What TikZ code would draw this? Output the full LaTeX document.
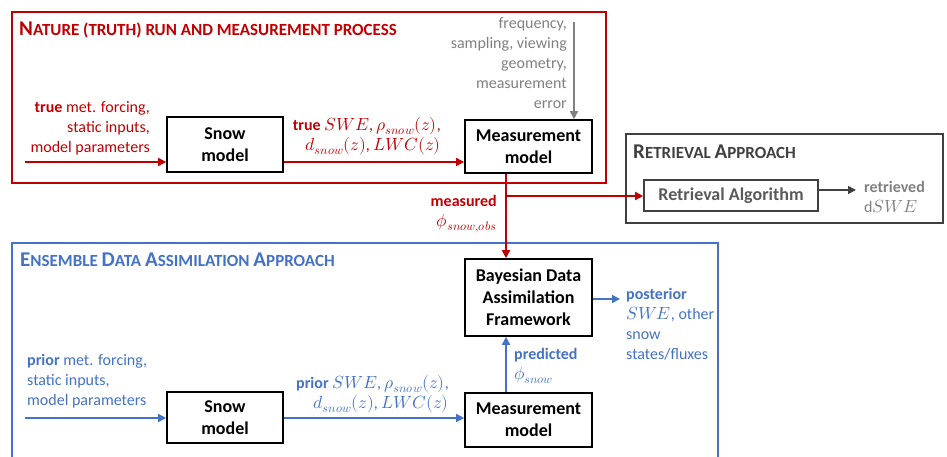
\documentclass[tikz,border=0pt]{standalone}
\usepackage{fontspec}
\setmainfont{Carlito}
\usepackage{unicode-math}
\setmathfont{Latin Modern Math}[Scale=1.1]
\usepackage{tikz}
\usetikzlibrary{arrows.meta,positioning,calc}
\definecolor{natred}{HTML}{C00000}
\definecolor{dablue}{HTML}{4472C4}
\definecolor{medgray}{HTML}{808080}
\definecolor{retgray}{HTML}{404040}
\definecolor{algray}{HTML}{595959}
% fake small caps for the frame titles
\newcommand{\fsc}[2]{{\fontsize{21}{24}\selectfont #1}{\fontsize{17}{20}\selectfont #2}}

\begin{document}
\begin{tikzpicture}[x=1pt, y=-1pt,
  font=\fontsize{16}{20}\selectfont,
  box/.style={draw, line width=1.6pt, align=center, inner sep=2pt,
    font=\fontsize{18}{22}\selectfont\bfseries},
  frm/.style={line width=2.8pt},
  a/.style={-{Triangle[length=8pt, width=8pt]}, line width=1.6pt},
  lbl/.style={inner sep=0pt},
  ttl/.style={inner sep=0pt, font=\bfseries, anchor=base west}]

\useasboundingbox (0,0) rectangle (947,456);

% =================== nature (truth) run ===============
\draw[frm, natred] (12,12) rectangle (606,183);
\node[ttl, natred] (natT) at (19,35)
      {\fsc{N}{ATURE (TRUTH) RUN AND MEASUREMENT PROCESS}};

\node[box, minimum width=116pt, minimum height=55pt] (snowT) at (225,144.5)
      {Snow\\model};
\node[box, minimum width=127pt, minimum height=53pt] (measT) at (528.5,146.5)
      {Measurement\\model};

\node[lbl, natred, align=right, anchor=north east] (inT) at (150,101)
      {\textbf{true} met. forcing,\\static inputs,\\model parameters};
\coordinate (inTs) at (25,162);
\draw[a, natred] (inTs) -- (inTs -| snowT.west);
\draw[a, natred] (snowT.east |- inTs) -- (measT.west |- inTs);
\node[lbl, natred, align=right, anchor=north east] (stT) at (441,117)
      {\textbf{true} $SWE$, $\rho_{snow}(z)$,\\$d_{snow}(z)$, $LWC(z)$};

\coordinate (gtop) at (574,22);
\draw[a, medgray] (gtop) -- (gtop |- measT.north);
\node[lbl, medgray, align=right, anchor=north east] (sensT) at (567,17)
      {frequency,\\sampling, viewing\\geometry,\\measurement\\error};

% =================== retrieval approach ===============
\draw[frm, retgray] (626,134) rectangle (943,223);
\node[ttl, retgray] (retT) at (633,158) {\fsc{R}{ETRIEVAL }\fsc{A}{PPROACH}};
\node[box, retgray, text=algray, minimum width=174pt, minimum height=31pt]
      (retr) at (731,195.5) {Retrieval Algorithm};
\coordinate (rout) at (856,190);
\draw[a, retgray] (rout -| retr.east) -- (rout);
\node[lbl, medgray, align=left, anchor=north west] (retd) at (864,181)
      {\textbf{retrieved}\\$\mathrm{d}SWE$};

% =================== ensemble data assimilation ===============
\draw[frm, dablue] (12,243) rectangle (718,470);
\node[ttl, dablue] (daT) at (20,266)
      {\fsc{E}{NSEMBLE }\fsc{D}{ATA }\fsc{A}{SSIMILATION }\fsc{A}{PPROACH}};

\node[box, minimum width=127pt, minimum height=77pt] (bayes) at (528.5,297.5)
      {Bayesian Data\\Assimilation\\Framework};
\node[box, minimum width=116pt, minimum height=51pt] (snowB) at (225,417.5)
      {Snow\\model};
\node[box, minimum width=127pt, minimum height=54pt] (measB) at (528.5,420)
      {Measurement\\model};

\node[lbl, dablue, align=left, anchor=north west] (inB) at (27,354)
      {\textbf{prior} met. forcing,\\static inputs,\\model parameters};
\coordinate (inBs) at (25,418);
\draw[a, dablue] (inBs) -- (inBs -| snowB.west);
\draw[a, dablue] (snowB.east |- inBs) -- (measB.west |- inBs);
\node[lbl, dablue, align=right, anchor=north east] (stB) at (449,375)
      {\textbf{prior} $SWE$, $\rho_{snow}(z)$,\\$d_{snow}(z)$, $LWC(z)$};

% measured observation goes to both approaches
\coordinate (split) at (506,196);
\draw[natred, line width=1.6pt] (split |- measT.south) -- (split);
\draw[a, natred] (split) -- (split -| retr.west);
\draw[a, natred] (split) -- (split |- bayes.north);
\node[lbl, natred, align=right, anchor=north east] (obsT) at (497,195)
      {\textbf{measured}\\$\phi_{snow,obs}$};

\draw[a, dablue] (split |- measB.north) -- (split |- bayes.south);
\node[lbl, dablue, align=left, anchor=north west] (predB) at (514,348)
      {\textbf{predicted}\\$\phi_{snow}$};

\coordinate (post) at (620,299);
\draw[a, dablue] (bayes.east |- post) -- (post);
\node[lbl, dablue, align=left, anchor=north west] (postB) at (626,288)
      {\textbf{posterior}\\$SWE$, other\\snow\\states/fluxes};
\end{tikzpicture}
\end{document}
